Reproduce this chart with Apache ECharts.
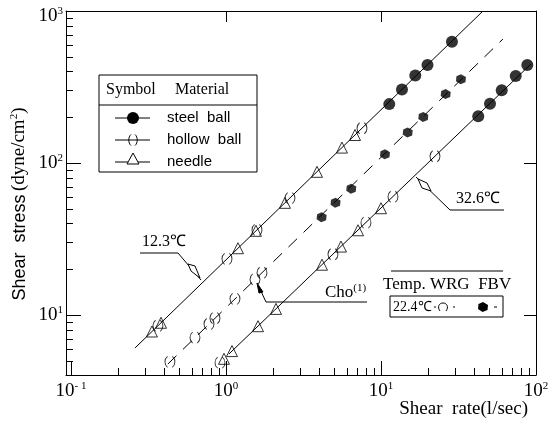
<!DOCTYPE html>
<html><head><meta charset="utf-8">
<script src="https://cdn.jsdelivr.net/npm/echarts@6/dist/echarts.min.js"></script>
<style>html,body{margin:0;padding:0;background:#fff}#c{width:556px;height:426px}</style>
</head><body><div id="c"></div>
<script>
// ---------- axes ----------
const xMin = 0.0929, xMax = 100, yMin = 4.03, yMax = 1000;
const xMajorTicks = [0.1, 1, 10, 100];
const xMinorTicks = [0.2,0.3,0.4,0.5,0.6,0.7,0.8,0.9,2,3,4,5,6,7,8,9,20,30,40,50,60,70,80,90];
const xTopTicks = [1, 10];
const yMajorTicks = [10, 100, 1000];
const yMinorTicks = [5,6,7,8,9,20,30,40,50,60,70,80,90,200,300,400,500,600,700,800,900];
const yRightTicks = [10, 100];

// ---------- fitted lines ----------
const line123X = [0.259, 45.5];  const line123Y = [6.07, 1000];
const line224X = [0.422, 61.2];  const line224Y = [4.76, 654];
const line326X = [1.045, 92.8];  const line326Y = [5.54, 448];

// ---------- data: steel ball ----------
const steel123X = [11.31, 13.66, 16.65, 19.95, 28.7];
const steel123Y = [244, 305, 377, 442, 628];
const steel326X = [42.4, 50.5, 60.1, 74.0, 87.9];
const steel326Y = [203, 245, 301, 374, 441];
// ---------- hollow ball ----------
const hollow123X = [0.364, 1.015, 1.585, 2.588, 7.54];
const hollow123Y = [8.50, 23.4, 36.3, 58.8, 169.2];
const hollow326X = [0.915, 4.90, 8.00, 11.95, 22.3];
const hollow326Y = [4.86, 25.1, 40.5, 60.0, 110.8];
// ---------- needle ----------
const needle123X = [0.333, 0.381, 1.195, 1.561, 2.402, 3.865, 5.60, 6.80];
const needle123Y = [7.79, 8.89, 27.5, 35.8, 54.7, 87.5, 126.3, 152.8];
const needle326X = [0.971, 1.093, 1.609, 2.102, 4.163, 5.52, 7.11, 10.0];
const needle326Y = [5.15, 5.79, 8.44, 10.97, 21.42, 28.2, 36.1, 50.4];
// ---------- 22.4 C : WRG (hollow) / FBV (filled) ----------
const wrgX = [0.435, 0.631, 0.777, 0.849, 1.143, 1.539, 1.707];
const wrgY = [4.92, 7.10, 8.73, 9.53, 12.78, 17.15, 18.98];
const fbvX = [4.14, 5.09, 6.43, 10.61, 14.87, 18.75, 26.15, 32.8];
const fbvY = [44.0, 54.8, 67.8, 114, 158.6, 201, 284, 356];

const zip = (a, b) => a.map((v, i) => [v, b[i]]);
const SERIF = 'Liberation Serif';
const SANS = 'Liberation Sans';
const hollowPath = 'path://M3,0 C0,2.5 0,7.5 3,10 M7,0 C10,2.5 10,7.5 7,10';
const hexPath = 'path://M5,0 L10,2.8 L9.5,8 L4.5,10 L0,7 L0.5,2 Z';
const W = 556, H = 426;
const gridBox = { left: 66, top: 11, right: 20, bottom: 51 };

function supLabel(v) {
  const e = Math.round(Math.log10(v));
  if (e === 3) return '{bt|10}{s|3}';
  return '{b|10}{s|' + (e < 0 ? '- 1' : e) + '}';
}
const labelRich = {
  b: { fontFamily: SERIF, fontSize: 19, color: '#000', verticalAlign: 'bottom' },
  bt: { fontFamily: SERIF, fontSize: 19, color: '#000', verticalAlign: 'bottom', padding: [11, 0, 0, 0] },
  s: { fontFamily: SERIF, fontSize: 11, color: '#000', verticalAlign: 'bottom', padding: [0, 0, 9, 0] }
};

function bez(x1, y1, cx1, cy1, cx2, cy2, x2, y2, z) {
  return { type: 'bezierCurve', shape: { x1: x1, y1: y1, cpx1: cx1, cpy1: cy1, cpx2: cx2, cpy2: cy2, x2: x2, y2: y2 },
           style: { fill: null, stroke: '#000', lineWidth: 1 }, z: z || 12 };
}

// ---------- tick marks (same log mapping as the grid's axes) ----------
const gL = gridBox.left, gT = gridBox.top, gR = W - gridBox.right, gB = H - gridBox.bottom;
function xPix(v) { return gL + (Math.log10(v) - Math.log10(xMin)) / (Math.log10(xMax) - Math.log10(xMin)) * (gR - gL); }
function yPix(v) { return gB - (Math.log10(v) - Math.log10(yMin)) / (Math.log10(yMax) - Math.log10(yMin)) * (gB - gT); }
const tickGraphics = [];
function addTicks(values, horizontal, edge, len, dir) {
  values.forEach(v => {
    const c = Math.round(horizontal ? xPix(v) : yPix(v)) + 0.5;
    tickGraphics.push({ type: 'line', z: 20,
      shape: horizontal ? { x1: c, y1: edge, x2: c, y2: edge + dir * len } : { x1: edge, y1: c, x2: edge + dir * len, y2: c },
      style: { stroke: '#000', lineWidth: 1 } });
  });
}
addTicks(xMajorTicks, true, gB, 14, -1);
addTicks(xMinorTicks, true, gB, 7, -1);
addTicks(xTopTicks, true, gT, 11, 1);
addTicks(yMajorTicks, false, gL, 15, 1);
addTicks(yMinorTicks, false, gL, 7, 1);
addTicks(yRightTicks, false, gR, 12, -1);

const staticGraphics = [
  // legend table
  { type: 'rect', shape: { x: 99, y: 75, width: 158, height: 97 }, style: { fill: '#fff', stroke: '#000', lineWidth: 1 }, z: 10 },
  { type: 'line', shape: { x1: 99, y1: 105, x2: 257, y2: 105 }, style: { stroke: '#000', lineWidth: 1 }, z: 11 },
  { type: 'text', x: 106, y: 90, style: { text: 'Symbol', font: '16px ' + SERIF, fill: '#000', verticalAlign: 'middle' }, z: 11 },
  { type: 'text', x: 175, y: 90, style: { text: 'Material', font: '16px ' + SERIF, fill: '#000', verticalAlign: 'middle' }, z: 11 },
  { type: 'line', shape: { x1: 115, y1: 118, x2: 150, y2: 118 }, style: { stroke: '#000', lineWidth: 1 }, z: 11 },
  { type: 'circle', shape: { cx: 133, cy: 118, r: 6 }, style: { fill: '#000' }, z: 12 },
  { type: 'line', shape: { x1: 115, y1: 140, x2: 150, y2: 140 }, style: { stroke: '#000', lineWidth: 1 }, z: 11 },
  bez(131, 134.5, 128, 137, 128, 143, 131, 145.5),
  bez(135, 134.5, 138, 137, 138, 143, 135, 145.5),
  { type: 'line', shape: { x1: 115, y1: 162, x2: 150, y2: 162 }, style: { stroke: '#000', lineWidth: 1 }, z: 11 },
  { type: 'polygon', shape: { points: [[133, 153], [139, 164], [127, 164]] }, style: { fill: '#fff', stroke: '#000', lineWidth: 1 }, z: 12 },
  { type: 'text', x: 167, y: 118, style: { text: 'steel  ball', font: '15px ' + SANS, fill: '#000', verticalAlign: 'middle' }, z: 11 },
  { type: 'text', x: 167, y: 140, style: { text: 'hollow  ball', font: '15px ' + SANS, fill: '#000', verticalAlign: 'middle' }, z: 11 },
  { type: 'text', x: 167, y: 162, style: { text: 'needle', font: '15px ' + SANS, fill: '#000', verticalAlign: 'middle' }, z: 11 },

  // 12.3 C annotation
  { type: 'text', x: 142, y: 242, style: { text: '12.3℃', font: '16px ' + SERIF, fill: '#000', verticalAlign: 'middle' }, z: 11 },
  { type: 'polyline', shape: { points: [[140, 253], [178, 253], [201, 280]] }, style: { stroke: '#000', lineWidth: 1, fill: null }, z: 11 },
  { type: 'polygon', shape: { points: [[188, 264], [195, 266], [200, 278], [191, 271]] }, style: { fill: '#fff', stroke: '#000', lineWidth: 1 }, z: 12 },

  // 32.6 C annotation
  { type: 'text', x: 456, y: 199, style: { text: '32.6℃', font: '16px ' + SERIF, fill: '#000', verticalAlign: 'middle' }, z: 11 },
  { type: 'polyline', shape: { points: [[504, 210], [450, 210], [416, 177]] }, style: { stroke: '#000', lineWidth: 1, fill: null }, z: 11 },
  { type: 'polygon', shape: { points: [[418, 179], [427, 183], [431, 191], [422, 188]] }, style: { fill: '#fff', stroke: '#000', lineWidth: 1 }, z: 12 },

  // Cho(1) annotation
  { type: 'text', x: 325, y: 292, style: { text: '{a|Cho}{s|(1)}', fill: '#000', verticalAlign: 'middle', rich: {
      a: { fontFamily: SERIF, fontSize: 17, verticalAlign: 'bottom' },
      s: { fontFamily: SERIF, fontSize: 11, verticalAlign: 'bottom', padding: [0, 0, 8, 0] } } }, z: 11 },
  { type: 'polyline', shape: { points: [[367, 302], [266, 302], [259, 287]] }, style: { stroke: '#000', lineWidth: 1, fill: null }, z: 11 },
  { type: 'polygon', shape: { points: [[257, 283], [263, 292], [259, 293]] }, style: { fill: '#000', stroke: '#000', lineWidth: 1 }, z: 12 },

  // Temp / WRG / FBV box
  { type: 'line', shape: { x1: 391, y1: 271, x2: 503, y2: 271 }, style: { stroke: '#000', lineWidth: 1 }, z: 11 },
  { type: 'text', x: 383, y: 285, style: { text: 'Temp. WRG  FBV', font: '17px ' + SERIF, fill: '#000', verticalAlign: 'middle' }, z: 11 },
  { type: 'rect', shape: { x: 390, y: 296, width: 113, height: 21 }, style: { fill: '#fff', stroke: '#000', lineWidth: 1 }, z: 11 },
  { type: 'text', x: 393, y: 307, style: { text: '22.4℃', font: '14px ' + SERIF, fill: '#000', verticalAlign: 'middle' }, z: 12 },
  { type: 'line', shape: { x1: 434, y1: 307, x2: 436, y2: 307 }, style: { stroke: '#000', lineWidth: 1 }, z: 12 },
  bez(440, 311, 437, 307, 439, 303, 443, 303),
  bez(443, 303, 447, 303, 449, 307, 446, 311),
  { type: 'line', shape: { x1: 453, y1: 307, x2: 455, y2: 307 }, style: { stroke: '#000', lineWidth: 1 }, z: 12 },
  { type: 'polygon', shape: { points: [[483, 302], [488, 305], [487.5, 310], [482.5, 312], [478, 309], [478.5, 304]] }, style: { fill: '#000' }, z: 12 },
  { type: 'line', shape: { x1: 494, y1: 307, x2: 497, y2: 307 }, style: { stroke: '#000', lineWidth: 1 }, z: 12 },

  // axis titles
  { type: 'text', x: 19, y: 204, rotation: Math.PI / 2, style: {
      text: '{a|Shear  stress} {b|(dyne/cm}{s|2}{b|)}', fill: '#000', align: 'center', verticalAlign: 'middle',
      rich: {
        a: { fontFamily: SANS, fontSize: 18, verticalAlign: 'bottom' },
        b: { fontFamily: SERIF, fontSize: 19, verticalAlign: 'bottom' },
        s: { fontFamily: SERIF, fontSize: 11, verticalAlign: 'bottom', padding: [0, 0, 9, 0] }
      } }, z: 11 },
  { type: 'text', x: 528, y: 409, style: { text: 'Shear  rate(l/sec)', font: '19px ' + SERIF, fill: '#000', align: 'right', verticalAlign: 'middle' }, z: 11 }
];

const chart = echarts.init(document.getElementById('c'));
const baseX = { type: 'log', logBase: 10, min: xMin, max: xMax, gridIndex: 0, splitLine: { show: false }, axisTick: { show: false } };
const baseY = { type: 'log', logBase: 10, min: yMin, max: yMax, gridIndex: 0, splitLine: { show: false }, axisTick: { show: false } };

chart.setOption({
  animation: false,
  backgroundColor: '#fff',
  grid: gridBox,
  xAxis: [
    Object.assign({}, baseX, {
      position: 'bottom',
      axisLine: { show: true, lineStyle: { color: '#000', width: 1 } },
      axisLabel: { show: true, customValues: xMajorTicks, margin: 6, formatter: supLabel, rich: labelRich }
    }),
    Object.assign({}, baseX, {
      position: 'top',
      axisLine: { show: true, lineStyle: { color: '#000', width: 1 } },
      axisLabel: { show: false }
    })
  ],
  yAxis: [
    Object.assign({}, baseY, {
      position: 'left',
      axisLine: { show: true, lineStyle: { color: '#000', width: 1 } },
      axisLabel: { show: true, customValues: yMajorTicks, margin: 3, formatter: supLabel, rich: labelRich }
    }),
    Object.assign({}, baseY, {
      position: 'right',
      axisLine: { show: true, lineStyle: { color: '#000', width: 1 } },
      axisLabel: { show: false }
    })
  ],
  series: [
    { type: 'line', data: zip(line123X, line123Y), showSymbol: false, lineStyle: { color: '#000', width: 1 }, z: 1 },
    { type: 'line', data: zip(line224X, line224Y), showSymbol: false, lineStyle: { color: '#000', width: 1, type: [12, 9] }, z: 1 },
    { type: 'line', data: zip(line326X, line326Y), showSymbol: false, lineStyle: { color: '#000', width: 1 }, z: 1 },
    { type: 'scatter', data: zip(steel123X, steel123Y).concat(zip(steel326X, steel326Y)), symbol: 'circle', symbolSize: 12, itemStyle: { color: '#000' }, z: 3 },
    { type: 'scatter', data: zip(fbvX, fbvY), symbol: hexPath, symbolSize: 10, itemStyle: { color: '#000' }, z: 3 },
    { type: 'scatter', data: zip(hollow123X, hollow123Y).concat(zip(hollow326X, hollow326Y)).concat(zip(wrgX, wrgY)), symbol: hollowPath, symbolSize: [10, 11], itemStyle: { color: 'rgba(0,0,0,0)', borderColor: '#000', borderWidth: 1 }, z: 3 },
    { type: 'scatter', data: zip(needle123X, needle123Y).concat(zip(needle326X, needle326Y)), symbol: 'triangle', symbolSize: [11, 11], itemStyle: { color: 'rgba(0,0,0,0)', borderColor: '#000', borderWidth: 1 }, z: 3 }
  ],
  graphic: tickGraphics.concat(staticGraphics)
});
</script>
</body></html>
